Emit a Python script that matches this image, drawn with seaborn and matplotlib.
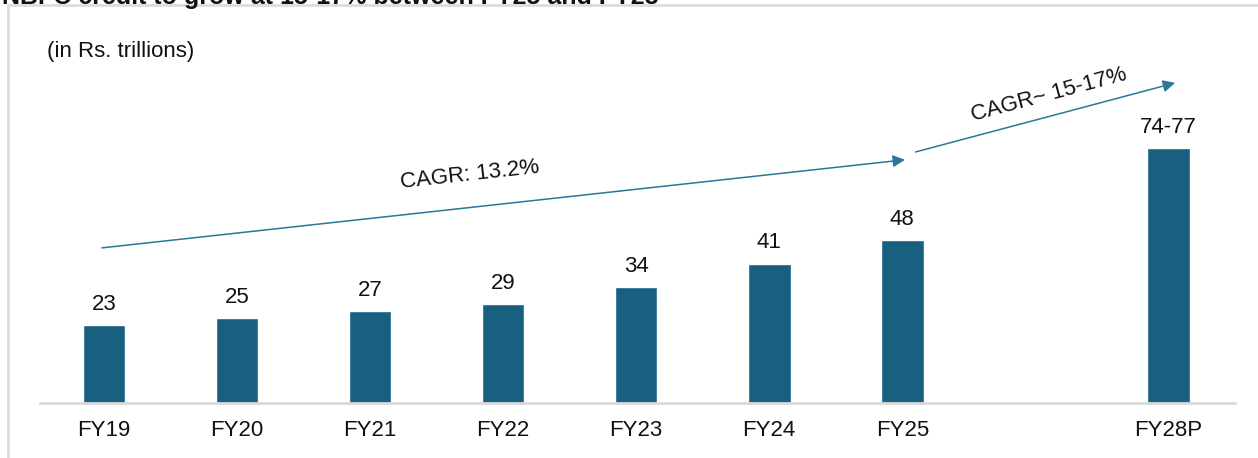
import seaborn as sns
import matplotlib.pyplot as plt
from matplotlib.lines import Line2D

# data
years = ["FY19", "FY20", "FY21", "FY22", "FY23", "FY24", "FY25", "FY28P"]
slots = [0, 1, 2, 3, 4, 5, 6, 8]
credit = [23, 25, 27, 29, 34, 41, 48, 75]
bar_labels = ["23", "25", "27", "29", "34", "41", "48", "74-77"]

bar_color = "#185f80"
arrow_color = "#2a7797"

sns.set_style("white")
plt.rcParams['font.family'] = ['Liberation Sans', 'DejaVu Sans']

fig = plt.figure(figsize=(12.58, 4.58), dpi=100)
ax = fig.add_axes([40 / 1258, 55 / 458, 1195 / 1258, 398 / 458])

sns.barplot(x=slots, y=credit, native_scale=True, width=0.32,
            color=bar_color, saturation=1, ax=ax)

ax.set_xlim(-0.48, 8.5)
ax.set_ylim(0, 117)

# value labels above the bars
for xpos, val, lab in zip(slots, credit, bar_labels):
    ax.text(xpos, val + 3.0, lab, ha="center", va="bottom", fontsize=16, color="#111111")

# axes styling
for side in ["top", "right", "left"]:
    ax.spines[side].set_visible(False)
ax.spines["bottom"].set_color("#d9d9d9")
ax.spines["bottom"].set_linewidth(2)
ax.set_yticks([])
ax.set_xticks(slots)
ax.set_xticklabels(years, fontsize=16, color="#111111")
ax.tick_params(axis="x", length=0, pad=12)
ax.set_xlabel("")
ax.set_ylabel("")

# CAGR arrows
ax.annotate("", xy=(6.02, 71.5), xytext=(-0.015, 45.6),
            arrowprops=dict(arrowstyle="-|>", color=arrow_color, lw=1.1,
                            mutation_scale=18, shrinkA=0, shrinkB=0))
ax.annotate("", xy=(8.05, 94.1), xytext=(6.10, 73.8),
            arrowprops=dict(arrowstyle="-|>", color=arrow_color, lw=1.1,
                            mutation_scale=18, shrinkA=0, shrinkB=0))
ax.text(2.75, 67.2, "CAGR: 13.2%", ha="center", va="center", rotation=6.3,
        rotation_mode="anchor", fontsize=16, color="#111111")
ax.text(7.10, 90.5, "CAGR~ 15-17%", ha="center", va="center", rotation=15,
        rotation_mode="anchor", fontsize=16, color="#111111")

# unit note and clipped heading
fig.text(47 / 1258, 1 - 51 / 458, "(in Rs. trillions)", ha="left", va="center",
         fontsize=16, color="#111111")
fig.text(2 / 1258, 1 - 4 / 458, "NBFC credit to grow at 15-17% between FY25 and FY28",
         ha="left", va="baseline", fontsize=18, fontweight="bold", color="#111111")

# panel frame
fig.add_artist(Line2D([8 / 1258, 8 / 1258], [0, 1 - 5 / 458], color="#dddddd", lw=2))
fig.add_artist(Line2D([8 / 1258, 1], [1 - 5 / 458, 1 - 5 / 458], color="#dddddd", lw=2))

fig.savefig("out.png", dpi=100, facecolor="white")
